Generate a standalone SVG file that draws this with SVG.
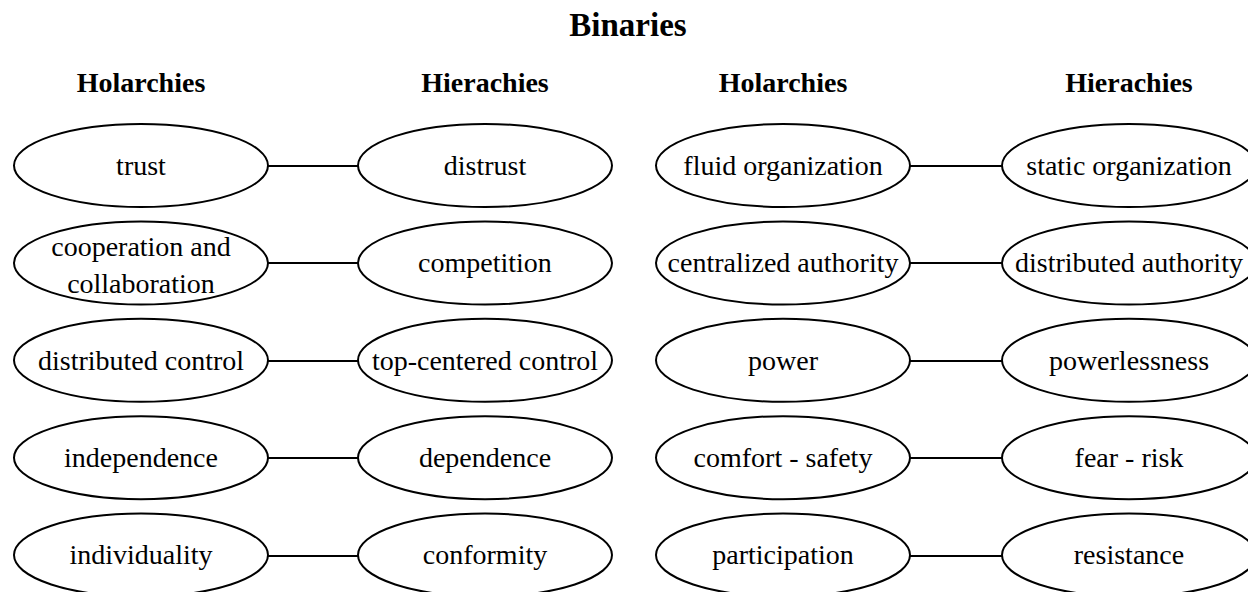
<svg xmlns="http://www.w3.org/2000/svg" width="1248" height="592" viewBox="0 0 1248 592">
<style>
.n ellipse{fill:#fff;stroke:#000;stroke-width:2}
.n text,.t{font-family:"Liberation Serif","Times New Roman",serif;font-size:28px;text-anchor:middle;fill:#000}
.h{font-family:"Liberation Serif","Times New Roman",serif;font-size:28px;font-weight:bold;text-anchor:middle;fill:#000}
.ttl{font-family:"Liberation Serif","Times New Roman",serif;font-size:33px;font-weight:bold;text-anchor:middle;fill:#000}
.e line{stroke:#000;stroke-width:2}
</style>
<rect width="1248" height="592" fill="#fff"/>
<text class="ttl" x="628" y="36">Binaries</text>
<text class="h" x="141" y="92">Holarchies</text>
<text class="h" x="485" y="92">Hierachies</text>
<text class="h" x="783" y="92">Holarchies</text>
<text class="h" x="1129" y="92">Hierachies</text>
<g id="connectors" class="e">
<line x1="268" y1="166" x2="358" y2="166"/>
<line x1="268" y1="263" x2="358" y2="263"/>
<line x1="268" y1="361" x2="358" y2="361"/>
<line x1="268" y1="458" x2="358" y2="458"/>
<line x1="268" y1="556" x2="358" y2="556"/>
<line x1="910" y1="166" x2="1002" y2="166"/>
<line x1="910" y1="263" x2="1002" y2="263"/>
<line x1="910" y1="361" x2="1002" y2="361"/>
<line x1="910" y1="458" x2="1002" y2="458"/>
<line x1="910" y1="556" x2="1002" y2="556"/>
</g>
<g id="trust" class="n"><ellipse cx="141" cy="165.5" rx="127" ry="41.5"/><text x="141" y="175">trust</text></g>
<g id="distrust" class="n"><ellipse cx="485" cy="165.5" rx="127" ry="41.5"/><text x="485" y="175">distrust</text></g>
<g id="cooperation" class="n"><ellipse cx="141" cy="263" rx="127" ry="41.5"/><text x="141" y="256">cooperation and</text><text x="141" y="293">collaboration</text></g>
<g id="competition" class="n"><ellipse cx="485" cy="263" rx="127" ry="41.5"/><text x="485" y="272">competition</text></g>
<g id="distributed_control" class="n"><ellipse cx="141" cy="360.3" rx="127" ry="41.5"/><text x="141" y="370">distributed control</text></g>
<g id="top_centered_control" class="n"><ellipse cx="485" cy="360.3" rx="127" ry="41.5"/><text x="485" y="370">top-centered control</text></g>
<g id="independence" class="n"><ellipse cx="141" cy="457.7" rx="127" ry="41.5"/><text x="141" y="467">independence</text></g>
<g id="dependence" class="n"><ellipse cx="485" cy="457.7" rx="127" ry="41.5"/><text x="485" y="467">dependence</text></g>
<g id="individuality" class="n"><ellipse cx="141" cy="555.1" rx="127" ry="41.5"/><text x="141" y="564">individuality</text></g>
<g id="conformity" class="n"><ellipse cx="485" cy="555.1" rx="127" ry="41.5"/><text x="485" y="564">conformity</text></g>
<g id="fluid_organization" class="n"><ellipse cx="783" cy="165.5" rx="127" ry="41.5"/><text x="783" y="175">fluid organization</text></g>
<g id="static_organization" class="n"><ellipse cx="1129" cy="165.5" rx="127" ry="41.5"/><text x="1129" y="175">static organization</text></g>
<g id="centralized_authority" class="n"><ellipse cx="783" cy="263" rx="127" ry="41.5"/><text x="783" y="272">centralized authority</text></g>
<g id="distributed_authority" class="n"><ellipse cx="1129" cy="263" rx="127" ry="41.5"/><text x="1129" y="272">distributed authority</text></g>
<g id="power" class="n"><ellipse cx="783" cy="360.3" rx="127" ry="41.5"/><text x="783" y="370">power</text></g>
<g id="powerlessness" class="n"><ellipse cx="1129" cy="360.3" rx="127" ry="41.5"/><text x="1129" y="370">powerlessness</text></g>
<g id="comfort_safety" class="n"><ellipse cx="783" cy="457.7" rx="127" ry="41.5"/><text x="783" y="467">comfort - safety</text></g>
<g id="fear_risk" class="n"><ellipse cx="1129" cy="457.7" rx="127" ry="41.5"/><text x="1129" y="467">fear - risk</text></g>
<g id="participation" class="n"><ellipse cx="783" cy="555.1" rx="127" ry="41.5"/><text x="783" y="564">participation</text></g>
<g id="resistance" class="n"><ellipse cx="1129" cy="555.1" rx="127" ry="41.5"/><text x="1129" y="564">resistance</text></g>
</svg>
